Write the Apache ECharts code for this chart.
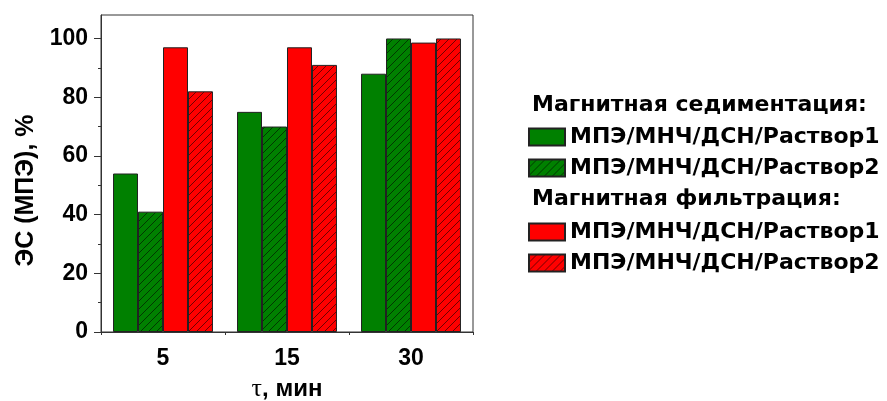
<!DOCTYPE html>
<html>
<head>
<meta charset="utf-8">
<script src="https://cdn.jsdelivr.net/npm/echarts@6/dist/echarts.min.js"></script>
<style>
  html, body { margin: 0; padding: 0; background: #fff; }
  #chart { width: 887px; height: 401px; }
</style>
</head>
<body>
<div id="chart"></div>
<script>
// Settling time, min
const categories = ['5', '15', '30'];

// Series names
const nameSed1 = 'МПЭ/МНЧ/ДСН/Раствор1';
const nameSed2 = 'МПЭ/МНЧ/ДСН/Раствор2 ';
const nameFil1 = 'МПЭ/МНЧ/ДСН/Раствор1  ';
const nameFil2 = 'МПЭ/МНЧ/ДСН/Раствор2   ';

// ЭС (МПЭ), % — magnetic sedimentation
const sedimentation1 = [54, 75, 88];
const sedimentation2 = [41, 70, 100];
// ЭС (МПЭ), % — magnetic filtration
const filtration1 = [97, 97, 98.6];
const filtration2 = [82, 91, 100];

// Group headings in the legend
const headingSed = 'Магнитная седиментация:';
const headingFil = 'Магнитная фильтрация:';

// Axis ticks
const yMajorTicks = [0, 20, 40, 60, 80, 100];
const yMinorTicks = [10, 30, 50, 70, 90];

const FONT = '"Liberation Sans", Arial, sans-serif';
const LEGEND_FONT = '"DejaVu Sans", "Liberation Sans", sans-serif';
const GREEN = '#008000';
const RED = '#ff0000';

// Diagonal hatch fill on top of a base colour
function hatch(base) {
  const s = 8;
  const c = document.createElement('canvas');
  c.width = s; c.height = s;
  const g = c.getContext('2d');
  g.fillStyle = base;
  g.fillRect(0, 0, s, s);
  g.strokeStyle = 'rgba(0,0,0,0.7)';
  g.lineWidth = 0.8;
  g.beginPath();
  g.moveTo(-1, s + 1); g.lineTo(s + 1, -1);
  g.moveTo(-1, 1); g.lineTo(1, -1);
  g.moveTo(s - 1, s + 1); g.lineTo(s + 1, s - 1);
  g.stroke();
  return { image: c, repeat: 'repeat' };
}

const border = { borderColor: '#222', borderWidth: 1 };

const chart = echarts.init(document.getElementById('chart'), null, { renderer: 'canvas' });

const legendText = { fontFamily: LEGEND_FONT, fontWeight: 'bold', fontSize: 22, color: '#000', lineHeight: 22 };

chart.setOption({
  animation: false,
  backgroundColor: '#fff',
  grid: {
    left: 101, top: 15, right: 414, bottom: 69,
    outerBoundsMode: 'none',
    show: true, borderColor: '#333', borderWidth: 1
  },
  legend: [
    {
      data: [nameSed1, nameSed2],
      orient: 'vertical', left: 528, top: 126, padding: 0,
      icon: 'rect',
      itemWidth: 36, itemHeight: 17, itemGap: 9,
      textStyle: legendText
    },
    {
      data: [nameFil1, nameFil2],
      orient: 'vertical', left: 528, top: 221, padding: 0,
      icon: 'rect',
      itemWidth: 36, itemHeight: 17, itemGap: 9,
      textStyle: legendText
    }
  ],
  graphic: [
    { type: 'text', left: 532, top: 94, style: { text: headingSed, font: 'bold 22px ' + LEGEND_FONT, fill: '#000' } },
    { type: 'text', left: 532, top: 188, style: { text: headingFil, font: 'bold 22px ' + LEGEND_FONT, fill: '#000' } }
  ],
  xAxis: [
    {
      type: 'category',
      data: categories,
      name: '{tau|τ}, мин',
      nameLocation: 'middle',
      nameGap: 44,
      nameTextStyle: {
        fontFamily: FONT, fontWeight: 'bold', fontSize: 24, color: '#000',
        rich: { tau: { fontFamily: '"Liberation Serif", "Times New Roman", serif', fontWeight: 'normal', fontSize: 26, color: '#000' } }
      },
      axisLine: { lineStyle: { color: '#333', width: 1 } },
      axisTick: { alignWithLabel: true, length: 7, lineStyle: { color: '#333' } },
      axisLabel: { margin: 15, fontFamily: FONT, fontWeight: 'bold', fontSize: 23, color: '#000' }
    },
    {
      // short ticks on the category boundaries
      type: 'value', min: 0, max: 3, interval: 1,
      position: 'bottom',
      axisLine: { show: false },
      axisTick: { show: true, length: 3, lineStyle: { color: '#333' } },
      axisLabel: { show: false },
      splitLine: { show: false }
    }
  ],
  yAxis: [
    {
      type: 'value', min: 0, max: 108,
      name: 'ЭС (МПЭ), %',
      nameLocation: 'middle',
      nameGap: 62,
      nameTextStyle: { fontFamily: FONT, fontWeight: 'bold', fontSize: 25, color: '#000', padding: [0, 34, 0, 0] },
      axisLine: { show: true, lineStyle: { color: '#333', width: 1 } },
      axisTick: { show: true, length: 7, customValues: yMajorTicks, lineStyle: { color: '#333' } },
      axisLabel: { margin: 13, customValues: yMajorTicks, fontFamily: FONT, fontWeight: 'bold', fontSize: 23, color: '#000' },
      splitLine: { show: false }
    },
    {
      type: 'value', min: 0, max: 108,
      position: 'left',
      axisLine: { show: false },
      axisTick: { show: true, length: 3, customValues: yMinorTicks, lineStyle: { color: '#333' } },
      axisLabel: { show: false },
      splitLine: { show: false }
    }
  ],
  series: [
    { name: nameSed1, type: 'bar', data: sedimentation1, barGap: '0%', barCategoryGap: '19.4%',
      itemStyle: Object.assign({ color: GREEN }, border) },
    { name: nameSed2, type: 'bar', data: sedimentation2, barGap: '0%', barCategoryGap: '19.4%',
      itemStyle: Object.assign({ color: hatch(GREEN) }, border) },
    { name: nameFil1, type: 'bar', data: filtration1, barGap: '0%', barCategoryGap: '19.4%',
      itemStyle: Object.assign({ color: RED }, border) },
    { name: nameFil2, type: 'bar', data: filtration2, barGap: '0%', barCategoryGap: '19.4%',
      itemStyle: Object.assign({ color: hatch(RED) }, border) }
  ]
});
</script>
</body>
</html>
